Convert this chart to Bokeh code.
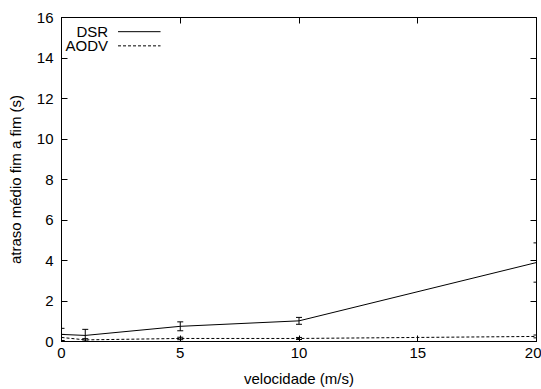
from bokeh.plotting import figure
from bokeh.models import (ColumnDataSource, Whisker, TeeHead, Range1d, LinearAxis,
                          FixedTicker, Label, Arrow)
from bokeh.embed import file_html
from bokeh.resources import INLINE

# data
velocidade = [0, 1, 5, 10, 20]
dsr_mean = [0.35, 0.30, 0.75, 1.02, 3.90]
dsr_err = [0.30, 0.30, 0.22, 0.17, 0.97]
aodv_mean = [0.20, 0.08, 0.15, 0.15, 0.25]
aodv_err = [0.15, 0.06, 0.06, 0.05, 0.07]
x_ticks = [0, 5, 10, 15, 20]
y_ticks = [0, 2, 4, 6, 8, 10, 12, 14, 16]

FONT = "Liberation Sans"
FS = "15px"

p = figure(width=541, height=389, output_backend="svg", toolbar_location=None,
           x_range=Range1d(0, 20), y_range=Range1d(0, 16),
           min_border_left=61, min_border_right=5, min_border_top=17, min_border_bottom=47)
p.background_fill_color = "white"
p.border_fill_color = "white"
p.outline_line_color = "black"
p.outline_line_width = 1
p.xgrid.visible = False
p.ygrid.visible = False

def style_axis(ax, ticks, labels=True):
    ax.ticker = FixedTicker(ticks=ticks)
    ax.major_tick_in = 6
    ax.major_tick_out = 0
    ax.minor_tick_line_color = None
    ax.axis_line_color = "black"
    ax.major_tick_line_color = "black"
    ax.major_label_text_font = FONT
    ax.major_label_text_font_size = FS
    ax.major_label_text_color = "black"
    ax.axis_label_text_font = FONT
    ax.axis_label_text_font_size = FS
    ax.axis_label_text_font_style = "normal"
    ax.axis_label_text_color = "black"
    if not labels:
        ax.major_label_text_font_size = "0px"
        ax.major_label_text_color = None
        ax.major_label_standoff = 0
        ax.axis_label_standoff = 0

style_axis(p.xaxis[0], x_ticks)
style_axis(p.yaxis[0], y_ticks)
p.xaxis[0].axis_label = "velocidade (m/s)"
p.yaxis[0].axis_label = "atraso médio fim a fim (s)"
p.xaxis[0].major_label_standoff = 6
p.xaxis[0].axis_label_standoff = 9
p.yaxis[0].major_label_standoff = 8
p.yaxis[0].axis_label_standoff = 10

top = LinearAxis()
style_axis(top, x_ticks, labels=False)
right = LinearAxis()
style_axis(right, y_ticks, labels=False)
p.add_layout(top, "above")
p.add_layout(right, "right")

dsr = ColumnDataSource(dict(x=velocidade, y=dsr_mean,
                            lo=[m - e for m, e in zip(dsr_mean, dsr_err)],
                            hi=[m + e for m, e in zip(dsr_mean, dsr_err)]))
aodv = ColumnDataSource(dict(x=velocidade, y=aodv_mean,
                             lo=[m - e for m, e in zip(aodv_mean, aodv_err)],
                             hi=[m + e for m, e in zip(aodv_mean, aodv_err)]))

p.line("x", "y", source=dsr, line_color="black", line_width=1)
p.line("x", "y", source=aodv, line_color="black", line_width=1, line_dash="3 2")

for src in (dsr, aodv):
    w = Whisker(source=src, base="x", lower="lo", upper="hi", dimension="height",
                line_color="black", line_width=1,
                upper_head=TeeHead(size=6, line_color="black", line_width=1),
                lower_head=TeeHead(size=6, line_color="black", line_width=1))
    p.add_layout(w)

# legend (gnuplot style: label then sample)
for yy, txt, dash in ((15.3, "DSR", "solid"), (14.6, "AODV", "3 2")):
    p.add_layout(Label(x=1.96, y=yy, text=txt, text_align="right", text_baseline="middle",
                       text_font=FONT, text_font_size=FS, text_color="black"))
    p.add_layout(Arrow(x_start=2.38, y_start=yy, x_end=4.17, y_end=yy, start=None, end=None,
                       line_color="black", line_width=1, line_dash=dash))

open("out.html", "w").write(file_html(p, INLINE))
